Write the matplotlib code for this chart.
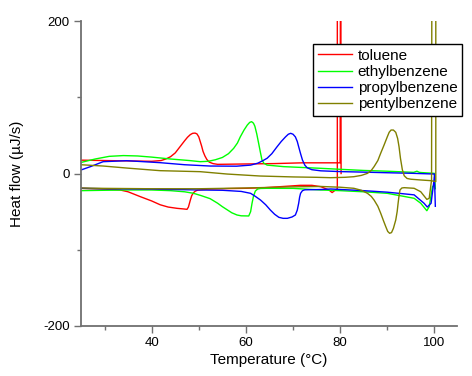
import matplotlib
matplotlib.use("Agg")
import matplotlib.pyplot as plt
from matplotlib.ticker import MultipleLocator

plt.rcParams['font.family'] = ['Liberation Sans', 'DejaVu Sans']
plt.rcParams['axes.unicode_minus'] = False

# ---- data (temperature in °C, heat flow in µJ/s) ----
# upper branch = curve with peaks pointing up, lower branch = peaks pointing down
toluene_up_T = [25, 30, 35, 40, 42, 43, 44, 45, 46, 47, 47.6, 48.2, 48.7, 49.2, 49.6, 50,
                50.3, 50.6, 50.9, 51.3, 51.7, 52.2, 53, 54, 60, 66, 72, 78, 80, 80.1, 80.2]
toluene_up_q = [17.5, 17, 16.5, 16, 17, 19, 22, 27, 35, 43, 47.5, 51, 52.7, 53, 52, 48,
                42, 36, 29, 23, 18.5, 15, 13, 12, 12.5, 13, 14, 14, 14, 400, 0]
toluene_lo_T = [25, 30, 33.3, 35, 37.6, 40, 41.8, 43.5, 45.4, 46.8, 47.5, 47.8, 48.2, 48.5,
                48.9, 49.3, 49.8, 52, 56, 60, 64, 68, 71.6, 74, 75.9, 77.6, 78.3, 79, 79.4, 79.4]
toluene_lo_q = [-19.5, -20.5, -21.6, -24, -30.4, -36, -41, -44, -45.7, -46.5, -47, -44, -35,
                -29, -25, -23, -21.8, -20.5, -19.8, -19.4, -18.6, -17, -15.5, -15.5, -17.3,
                -21.6, -25, -21.6, -20, 400]

ethyl_up_T = [25, 28, 31, 34, 37, 40, 44, 48, 50.3, 52, 53.5, 55, 56.3, 57.4, 58.2, 58.8,
              59.6, 60.3, 60.8, 61.2, 61.6, 61.9, 62.3, 62.7, 63.1, 63.4, 63.8, 64.5, 68,
              71.6, 75.9, 80, 85, 90, 95.6, 96.3, 96.8, 97.3, 100, 100.2]
ethyl_up_q = [14.5, 19, 22.5, 23.5, 23, 21.5, 19, 17, 15.5, 16, 18, 21, 26, 33, 40, 48,
              57, 63.6, 67, 68, 66, 62, 52, 39.6, 27, 18, 13.5, 11, 9,
              8, 6.8, 5.5, 4, 3, 1.5, 3, 1.5, 1.2, 0.2, -20]
ethyl_lo_T = [25, 30, 34.7, 40, 44, 47, 48.9, 50.5, 52.4, 54, 55, 56, 57, 58.1, 59, 60.6,
              61, 61.3, 61.6, 62, 62.5, 63.1, 64.5, 70, 75.9, 80, 85, 90, 95.7, 97.1, 98.4,
              98.9, 99.6, 100]
ethyl_lo_q = [-22.5, -22, -21.6, -21.6, -22.5, -24, -26, -29, -33, -39, -43.5, -47.5, -51.5,
              -54.4, -55.5, -55.7, -50, -39, -30, -23, -20.3, -19.6, -19.4, -19.5, -21.6,
              -22.5, -24, -26, -32.5, -39, -48.8, -43.5, -17.3, -15]

propyl_up_T = [25, 27, 29.7, 34.7, 41.8, 47, 52.4, 58, 61, 62.5, 63.5, 64.5, 65.5, 66.6,
               67.5, 68.4, 69, 69.5, 70, 70.5, 70.9, 71.2, 71.6, 72, 72.5, 73, 74, 75.9,
               80, 85, 90, 95, 100, 100.2]
propyl_up_q = [4.6, 9, 15.5, 16.8, 14.2, 11.5, 9.8, 9.6, 11, 13.5, 16.5, 20, 26, 35,
               42, 48, 51.5, 52.7, 51.5, 48, 42, 35, 26, 17.7, 11, 7.5, 5, 3.5,
               2.5, 1.8, 1, 0.3, -0.7, -43]
propyl_lo_T = [25, 30, 40, 50.3, 55, 59, 61, 62, 63.1, 64.2, 65.2, 66.1, 67, 67.9, 68.8,
               69.8, 70.5, 70.9, 71.2, 71.4, 71.6, 72, 72.5, 75.9, 78, 85, 90, 95.7, 97.8,
               98.5, 99.3, 100]
propyl_lo_q = [-19.4, -20, -20.5, -21.6, -22, -23.5, -26, -30, -34.8, -41, -48, -53.5,
               -57.5, -58.8, -58.8, -57, -54.4, -48, -39, -31, -26, -22.5, -21.4, -21,
               -20.3, -22.5, -24.5, -28, -39, -44, -39, -5]

pentyl_up_T = [25, 29.7, 35, 41.8, 50.3, 56, 63, 70, 75, 78, 81, 82.9, 84.5, 85.8, 86.6,
               87.2, 88, 88.6, 89.3, 90, 90.4, 90.8, 91.3, 91.8, 92.2, 92.5, 92.8, 93.2,
               93.6, 94.2, 95, 97.1, 99.3, 100.3, 100.3]
pentyl_up_q = [11.5, 9.8, 7, 3.7, 2.4, -0.7, -3.3, -4.5, -5, -5.5, -5, -4.2, -2.5, 0.2, 4,
               9, 17, 26.5, 37, 48, 54, 57, 57, 54, 46, 35, 20, 5,
               -3, -6.5, -7.5, -8.5, -9.4, -10.7, 400]
pentyl_lo_T = [25, 30, 40, 50, 60, 70, 75.9, 80, 82.9, 84.5, 85.8, 86.6, 87.2, 88, 88.6,
               89.2, 89.7, 90.1, 90.5, 90.9, 91.3, 91.8, 92.1, 92.3, 92.5, 92.7, 93.1, 93.6,
               95.7, 97.1, 98.4, 98.9, 99.4, 99.5]
pentyl_lo_q = [-19, -19.5, -20, -20, -19, -17.5, -17, -18, -19.4, -22, -26, -30, -34.8, -43,
               -52, -62, -70, -76, -78.4, -77.5, -72, -61, -50, -39, -29, -21.6, -19, -18.6,
               -19.4, -23.9, -34, -32.5, -8.5, 400]

names = ['toluene', 'ethylbenzene', 'propylbenzene', 'pentylbenzene']
colors = ['#ff0000', '#00ff00', '#0000ff', '#808000']
branches = [
    (toluene_up_T, toluene_up_q, toluene_lo_T, toluene_lo_q),
    (ethyl_up_T, ethyl_up_q, ethyl_lo_T, ethyl_lo_q),
    (propyl_up_T, propyl_up_q, propyl_lo_T, propyl_lo_q),
    (pentyl_up_T, pentyl_up_q, pentyl_lo_T, pentyl_lo_q),
]

fig = plt.figure(figsize=(4.72, 3.76), dpi=100)
ax = fig.add_axes([81 / 472, 1 - 326 / 376, (457 - 81) / 472, (326 - 21) / 376])

for name, c, (uT, uq, lT, lq) in zip(names, colors, branches):
    ax.plot(uT, uq, color=c, lw=1.0, label=name)
    ax.plot(lT, lq, color=c, lw=1.0)

ax.set_xlim(25, 104.8)
ax.set_ylim(-200, 200)
ax.xaxis.set_major_locator(MultipleLocator(20))
ax.xaxis.set_minor_locator(MultipleLocator(10))
ax.yaxis.set_major_locator(MultipleLocator(200))
ax.yaxis.set_minor_locator(MultipleLocator(100))

axis_grey = '#707070'
for s in ['top', 'right']:
    ax.spines[s].set_visible(False)
for s in ['left', 'bottom']:
    ax.spines[s].set_color(axis_grey)
    ax.spines[s].set_linewidth(1.3)
ax.tick_params(which='major', direction='out', length=5, width=1, color=axis_grey,
               labelsize=9.5, pad=3)
ax.tick_params(which='minor', direction='out', length=3, width=1, color=axis_grey)

ax.set_xlabel('Temperature (°C)', fontsize=11, labelpad=3)
ax.set_ylabel('Heat flow (µJ/s)', fontsize=11, labelpad=14)

leg = ax.legend(loc='upper right', bbox_to_anchor=(462 / 472, 1 - 44 / 376),
                bbox_transform=fig.transFigure, fontsize=11, frameon=True,
                fancybox=False, edgecolor='black', framealpha=1, borderpad=0.3,
                labelspacing=0.15, handlelength=2.2, handletextpad=0.4, borderaxespad=0)
leg.get_frame().set_linewidth(1.0)

fig.savefig('out.png', dpi=100)
